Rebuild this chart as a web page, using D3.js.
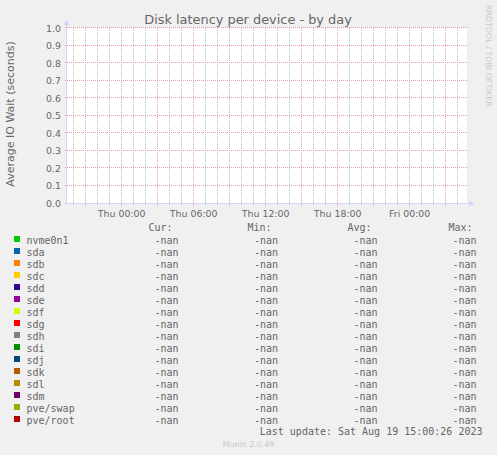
<!DOCTYPE html>
<html>
<head>
<meta charset="utf-8">
<script src="https://cdn.jsdelivr.net/npm/d3@7"></script>
<style>
  body { margin: 0; background: #f0f0f0; }
  svg { display: block; }
  text { font-family: "DejaVu Sans", sans-serif; fill: #666; }
  .mono { font-family: "DejaVu Sans Mono", monospace; font-size: 10px; }
</style>
</head>
<body>
<div id="chart"></div>
<script>
// Chart data
const devices = ['nvme0n1', 'sda', 'sdb', 'sdc', 'sdd', 'sde', 'sdf', 'sdg',
  'sdh', 'sdi', 'sdj', 'sdk', 'sdl', 'sdm', 'pve/swap', 'pve/root']
const colors = ['#00CC00', '#0066B3', '#FF8000', '#FFCC00', '#330099', '#990099', '#CCFF00', '#FF0000',
  '#808080', '#008F00', '#00487D', '#B35A00', '#B38F00', '#6B006B', '#8FB300', '#B30000']
// no readings for the period: every stat is NaN
const curValues = [NaN, NaN, NaN, NaN, NaN, NaN, NaN, NaN, NaN, NaN, NaN, NaN, NaN, NaN, NaN, NaN]
const minValues = [NaN, NaN, NaN, NaN, NaN, NaN, NaN, NaN, NaN, NaN, NaN, NaN, NaN, NaN, NaN, NaN]
const avgValues = [NaN, NaN, NaN, NaN, NaN, NaN, NaN, NaN, NaN, NaN, NaN, NaN, NaN, NaN, NaN, NaN]
const maxValues = [NaN, NaN, NaN, NaN, NaN, NaN, NaN, NaN, NaN, NaN, NaN, NaN, NaN, NaN, NaN, NaN]
const yTicks = [0, 0.1, 0.2, 0.3, 0.4, 0.5, 0.6, 0.7, 0.8, 0.9, 1.0]
const timeStart = new Date(Date.UTC(2023, 7, 16, 19, 26, 40))
const timeEnd = new Date(Date.UTC(2023, 7, 18, 4, 46, 40))
const lastUpdate = 'Last update: Sat Aug 19 15:00:26 2023'

// canvas
const width = 497,
height = 455,
plotLeft = 67, plotRight = 467, plotTop = 28, plotBottom = 203.5

const svg = d3.select('#chart')
.append('svg')
.attr('width', width)
.attr('height', height)

const x = d3.scaleUtc().domain([timeStart, timeEnd]).range([plotLeft, plotRight])
const y = d3.scaleLinear().domain([0, 1]).range([plotBottom, plotTop])

// plot canvas
svg.append('rect')
.attr('x', plotLeft).attr('y', plotTop)
.attr('width', plotRight - plotLeft).attr('height', plotBottom - plotTop)
.attr('fill', '#fff')

const px = v => Math.floor(v) + 0.5
const minorColor = '#bdbdbd', majorColor = '#e8a0a4'

// minor grid: every hour (skip the 3-hour majors)
const grid = svg.append('g')
grid.selectAll('.minor')
.data(x.ticks(d3.utcHour.every(1)).filter(d => d.getUTCHours() % 3 !== 0))
.enter().append('line')
.attr('x1', d => px(x(d))).attr('x2', d => px(x(d)))
.attr('y1', plotTop).attr('y2', plotBottom + 2)
.attr('stroke', minorColor)
.attr('stroke-dasharray', '1,1')

// major grid: every 3 hours and every 0.1
grid.selectAll('.majorx')
.data(x.ticks(d3.utcHour.every(3)))
.enter().append('line')
.attr('x1', d => px(x(d))).attr('x2', d => px(x(d)))
.attr('y1', plotTop).attr('y2', plotBottom + 3)
.attr('stroke', majorColor)
.attr('stroke-dasharray', '1,1')

grid.selectAll('.majory')
.data(yTicks)
.enter().append('line')
.attr('x1', plotLeft - 2).attr('x2', plotRight + 1)
.attr('y1', d => px(y(d) - 0.5)).attr('y2', d => px(y(d) - 0.5))
.attr('stroke', majorColor)
.attr('stroke-dasharray', '1,1')

// data lines (all NaN, so nothing is drawn)
devices.forEach((dev, i) => {
  const pts = [[timeStart, curValues[i]], [timeEnd, curValues[i]]]
  svg.append('path')
  .attr('fill', 'none')
  .attr('stroke', colors[i])
  .attr('d', d3.line().defined(d => !isNaN(d[1])).x(d => x(d[0])).y(d => y(d[1]))(pts))
})

// axes
const axisColor = '#cfd6f8'
svg.append('line')
.attr('x1', plotLeft - 0.5).attr('x2', plotLeft - 0.5)
.attr('y1', plotBottom + 2).attr('y2', plotTop - 3)
.attr('stroke', axisColor)
svg.append('path')
.attr('d', `M${plotLeft - 3.5},${plotTop - 3} L${plotLeft + 2.5},${plotTop - 3} L${plotLeft - 0.5},${plotTop - 8} Z`)
.attr('fill', axisColor)
svg.append('line')
.attr('x1', plotLeft - 2).attr('x2', plotRight + 2)
.attr('y1', plotBottom).attr('y2', plotBottom)
.attr('stroke', axisColor)
svg.append('path')
.attr('d', `M${plotRight + 2},${plotBottom - 3} L${plotRight + 2},${plotBottom + 3} L${plotRight + 7},${plotBottom} Z`)
.attr('fill', axisColor)

// tick labels
svg.selectAll('.ylab')
.data(yTicks)
.enter().append('text')
.attr('x', plotLeft - 6)
.attr('y', d => y(d) + 3.5)
.attr('text-anchor', 'end')
.style('font-size', '9.4px')
.text(d => d.toFixed(1))

svg.selectAll('.xlab')
.data(x.ticks(d3.utcHour.every(6)))
.enter().append('text')
.attr('x', d => x(d))
.attr('y', plotBottom + 13.5)
.attr('text-anchor', 'middle')
.style('font-size', '9.4px')
.text(d => d3.utcFormat('%a %H:%M')(d))

// titles
svg.append('text')
.attr('x', 248).attr('y', 24)
.attr('text-anchor', 'middle')
.style('font-size', '12.9px')
.text('Disk latency per device - by day')

svg.append('text')
.attr('transform', `translate(14,114) rotate(-90)`)
.attr('text-anchor', 'middle')
.style('font-size', '11px')
.text('Average IO Wait (seconds)')

svg.append('text')
.attr('transform', `translate(485.5,5) rotate(90)`)
.style('font-size', '7.9px')
.style('fill', '#c8c8c8')
.text('RRDTOOL / TOBI OETIKER')

// legend
const fmt = v => isNaN(v) ? '-nan' : v.toFixed(2)
const headers = [['Cur:', 172.5], ['Min:', 271.5], ['Avg:', 371.5], ['Max:', 472.5]]
svg.selectAll('.head')
.data(headers)
.enter().append('text')
.attr('class', 'mono')
.attr('x', d => d[1]).attr('y', 231)
.attr('text-anchor', 'end')
.text(d => d[0])

const rowY = i => 243.5 + i * 12
const rows = svg.selectAll('.row')
.data(devices)
.enter().append('g')

rows.append('rect')
.attr('x', 14).attr('y', (d, i) => rowY(i) - 7.5)
.attr('width', 6).attr('height', 6)
.attr('fill', (d, i) => colors[i])

rows.append('text')
.attr('class', 'mono')
.attr('x', 26.5).attr('y', (d, i) => rowY(i))
.text(d => d)

const cols = [[curValues, 178.5], [minValues, 278], [avgValues, 377.5], [maxValues, 476.5]]
cols.forEach(([vals, cx]) => {
  rows.append('text')
  .attr('class', 'mono')
  .attr('x', cx).attr('y', (d, i) => rowY(i))
  .attr('text-anchor', 'end')
  .text((d, i) => fmt(vals[i]))
})

svg.append('text')
.attr('class', 'mono')
.attr('x', 482.5).attr('y', 435)
.attr('text-anchor', 'end')
.text(lastUpdate)

svg.append('text')
.attr('x', 248.5).attr('y', 447)
.attr('text-anchor', 'middle')
.style('font-size', '7.9px')
.style('fill', '#c8c8c8')
.text('Munin 2.0.49')
</script>
</body>
</html>
